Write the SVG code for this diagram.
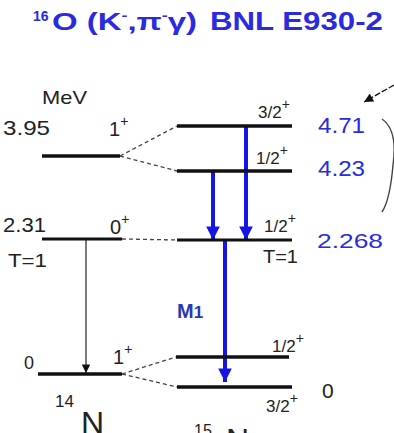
<svg xmlns="http://www.w3.org/2000/svg" width="394" height="433" viewBox="0 0 394 433">
<defs>
<style>
.t{font-family:"Liberation Sans",Arial,sans-serif;fill:#222}
.b{font-family:"Liberation Sans",Arial,sans-serif;fill:#2a2ae0}
.lvl{stroke:#111;stroke-width:3.5}
.lvl2{stroke:#111;stroke-width:3}
.dash{stroke:#444;stroke-width:1.3;stroke-dasharray:4,3;fill:none}
.blue{stroke:#1515e6;stroke-width:4;fill:none}
</style>
<marker id="bh" viewBox="0 0 10 10" refX="10" refY="5" markerWidth="5" markerHeight="3.4" markerUnits="strokeWidth" orient="auto"><path d="M0,0 L10,5 L0,10 Z" fill="#1515e6"/></marker>
<marker id="kh" viewBox="0 0 10 10" refX="10" refY="5" markerWidth="8" markerHeight="7" markerUnits="strokeWidth" orient="auto"><path d="M0,0 L10,5 L0,10 Z" fill="#111"/></marker>
</defs>
<rect width="394" height="433" fill="#fff"/>
<g id="title">
<text class="b" x="33" y="21" font-size="14" font-weight="bold">16</text>
<text class="b" x="52" y="30" font-size="24" font-weight="bold" textLength="145" lengthAdjust="spacingAndGlyphs">O (K<tspan font-size="13" dy="-10">-</tspan><tspan dy="10">,π</tspan><tspan font-size="13" dy="-10">-</tspan><tspan dy="10">γ)</tspan></text>
<text class="b" x="210" y="30" font-size="25" font-weight="bold" textLength="173" lengthAdjust="spacingAndGlyphs">BNL E930-2</text>
</g>
<g id="units"><text class="t" x="42" y="104" font-size="19" textLength="45" lengthAdjust="spacingAndGlyphs">MeV</text></g>
<g id="connectors">
<path class="dash" d="M120,156 L177,126 M120,156 L177,171 M122,239 L177,240 M122,374 L176,357 M122,374 L177,387"/>
<line x1="86" y1="239" x2="86" y2="373" stroke="#222" stroke-width="1.2" marker-end="url(#kh)"/>
<line class="blue" x1="213" y1="171" x2="213" y2="240" marker-end="url(#bh)"/>
<line class="blue" x1="246" y1="126" x2="246" y2="240" marker-end="url(#bh)"/>
<line class="blue" x1="225" y1="240" x2="225" y2="382" marker-end="url(#bh)"/>
<line x1="394" y1="85" x2="364" y2="102" stroke="#111" stroke-width="1.3" stroke-dasharray="6,2" marker-end="url(#kh)"/>
<path d="M382,119 Q398,130 393,165 Q390,200 382,212" fill="none" stroke="#444" stroke-width="1.4"/>
</g>
<g id="n14_395">
<line class="lvl" x1="42" y1="156" x2="120" y2="156"/>
<text class="t" x="3" y="135" font-size="21" textLength="47" lengthAdjust="spacingAndGlyphs">3.95</text>
<text class="t" x="109" y="136" font-size="20">1<tspan font-size="14" dy="-10">+</tspan></text>
</g>
<g id="n14_231">
<line class="lvl2" x1="42" y1="239" x2="122" y2="239"/>
<text class="t" x="3" y="232" font-size="21" textLength="43" lengthAdjust="spacingAndGlyphs">2.31</text>
<text class="t" x="110" y="234" font-size="20">0<tspan font-size="14" dy="-10">+</tspan></text>
<text class="t" x="8" y="267" font-size="19" textLength="39" lengthAdjust="spacingAndGlyphs">T=1</text>
</g>
<g id="n14_0">
<line class="lvl" x1="38" y1="374" x2="122" y2="374"/>
<text class="t" x="24" y="369" font-size="18">0</text>
<text class="t" x="113" y="364" font-size="20">1<tspan font-size="14" dy="-10">+</tspan></text>
<text class="t" x="55" y="407" font-size="17">14</text>
<text class="t" x="81" y="434" font-size="32">N</text>
</g>
<g id="l15_471">
<line class="lvl" x1="177" y1="126" x2="292" y2="126"/>
<text class="t" x="258" y="118" font-size="17">3/2<tspan font-size="14" dy="-9">+</tspan></text>
<text class="b" x="318" y="133" font-size="22" textLength="47" lengthAdjust="spacingAndGlyphs">4.71</text>
</g>
<g id="l15_423">
<line class="lvl" x1="177" y1="171" x2="292" y2="171"/>
<text class="t" x="256" y="164" font-size="17">1/2<tspan font-size="14" dy="-9">+</tspan></text>
<text class="b" x="318" y="176" font-size="22" textLength="47" lengthAdjust="spacingAndGlyphs">4.23</text>
</g>
<g id="l15_2268">
<line class="lvl2" x1="177" y1="240" x2="292" y2="240"/>
<text class="t" x="264" y="232" font-size="17">1/2<tspan font-size="14" dy="-9">+</tspan></text>
<text class="t" x="263" y="263" font-size="18" textLength="35" lengthAdjust="spacingAndGlyphs">T=1</text>
<text class="b" x="317" y="248" font-size="21" textLength="66" lengthAdjust="spacingAndGlyphs">2.268</text>
<text x="177" y="318" font-size="20" font-weight="bold" font-family="Liberation Sans,Arial,sans-serif" fill="#2a38b0">M<tspan font-size="17">1</tspan></text>
</g>
<g id="l15_half">
<line class="lvl" x1="176" y1="357" x2="289" y2="357"/>
<text class="t" x="272" y="352" font-size="17">1/2<tspan font-size="14" dy="-9">+</tspan></text>
</g>
<g id="l15_0">
<line class="lvl" x1="177" y1="387" x2="292" y2="387"/>
<text class="t" x="266" y="412" font-size="17">3/2<tspan font-size="14" dy="-9">+</tspan></text>
<text class="t" x="322" y="398" font-size="21">0</text>
<text class="t" x="194" y="436" font-size="16">15</text>
<text class="t" x="226" y="451" font-size="32">N</text>
</g>
</svg>
